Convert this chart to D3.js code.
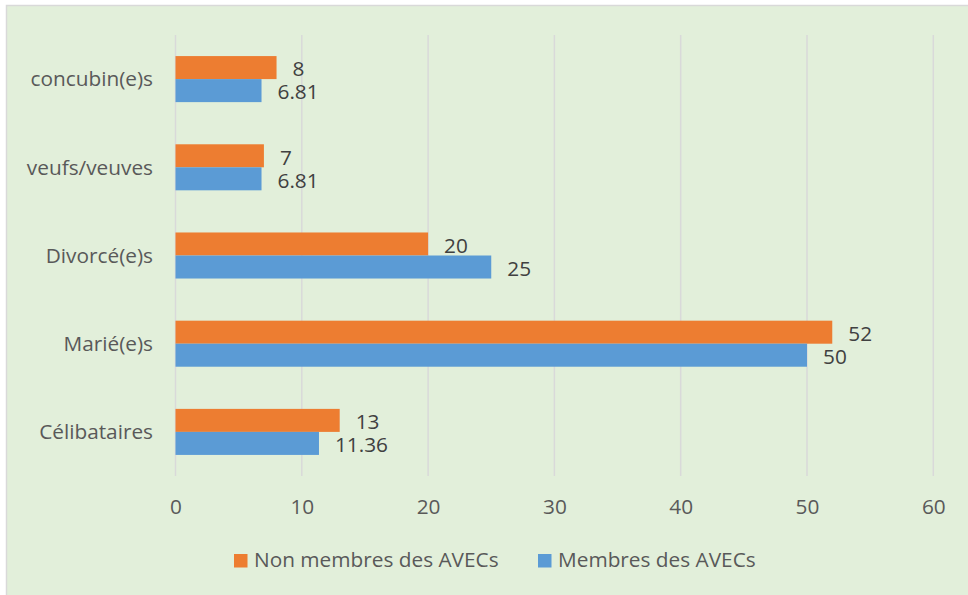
<!DOCTYPE html>
<html><head><meta charset="utf-8">
<script src="https://cdn.jsdelivr.net/npm/d3@7"></script>
<style>body{margin:0;background:#fff}svg{display:block}</style>
</head><body>
<script>
const categories = ["concubin(e)s","veufs/veuves","Divorcé(e)s","Marié(e)s","Célibataires"];
const nonMembres = [8,7,20,52,13];
const membres = [6.81,6.81,25,50,11.36];
const seriesNames = ["Non membres des AVECs","Membres des AVECs"];
const seriesColors = ["#ED7D31","#5B9BD5"];
const xTicks = [0,10,20,30,40,50,60];

const W=968,H=595;
const svg=d3.select("body").append("svg").attr("width",W).attr("height",H);
const font="'Open Sans', sans-serif";
const fs=20.8;
svg.append("rect").attr("x",6.5).attr("y",5.5).attr("width",W).attr("height",H)
  .attr("fill","#E2EFDA").attr("stroke","#D9D9D9").attr("stroke-width",1.5);

const x=d3.scaleLinear().domain([0,60]).range([175.5,933.3]);
const y=d3.scaleBand().domain(categories).range([35,476]).paddingInner(0.478).paddingOuter(0.239);
const sub=d3.scaleBand().domain([0,1]).range([0,y.bandwidth()]);

// gridlines
svg.append("g").selectAll("line").data(xTicks).join("line")
  .attr("x1",d=>x(d)).attr("x2",d=>x(d)).attr("y1",35).attr("y2",476)
  .attr("stroke","#D9D9D9").attr("stroke-width",1.5);

// x axis labels
const xa=svg.append("g").attr("transform","translate(0,507)")
  .call(d3.axisBottom(x).tickValues(xTicks).tickSize(0).tickPadding(0).tickFormat(d3.format("d")));
xa.select(".domain").remove();
xa.selectAll("text").attr("font-family",font).attr("font-size",fs).attr("fill","#595959").attr("dy","0.35em");

// y axis labels
const ya=svg.append("g").attr("transform","translate(153,0)")
  .call(d3.axisLeft(y).tickSize(0).tickPadding(0));
ya.select(".domain").remove();
ya.selectAll("text").attr("font-family",font).attr("font-size",fs).attr("fill","#595959").attr("dy","0.35em");

const series=[nonMembres,membres];
series.forEach((vals,si)=>{
  const g=svg.append("g");
  g.selectAll("rect").data(vals).join("rect")
    .attr("x",x(0)).attr("y",(d,i)=>y(categories[i])+sub(si))
    .attr("width",d=>x(d)-x(0)).attr("height",sub.bandwidth())
    .attr("fill",seriesColors[si]);
  g.selectAll("text").data(vals).join("text")
    .attr("x",d=>x(d)+16).attr("y",(d,i)=>y(categories[i])+sub(si)+sub.bandwidth()/2+1.5)
    .attr("dy","0.35em").attr("font-family",font).attr("font-size",fs).attr("fill","#404040")
    .text(d=>d);
});

// legend
const legX=[234,538];
seriesNames.forEach((n,i)=>{
  svg.append("rect").attr("x",legX[i]).attr("y",554).attr("width",13.5).attr("height",13.5).attr("fill",seriesColors[i]);
  svg.append("text").attr("x",legX[i]+20).attr("y",560).attr("dy","0.35em")
    .attr("font-family",font).attr("font-size",fs).attr("fill","#595959").text(n);
});
</script>
</body></html>
